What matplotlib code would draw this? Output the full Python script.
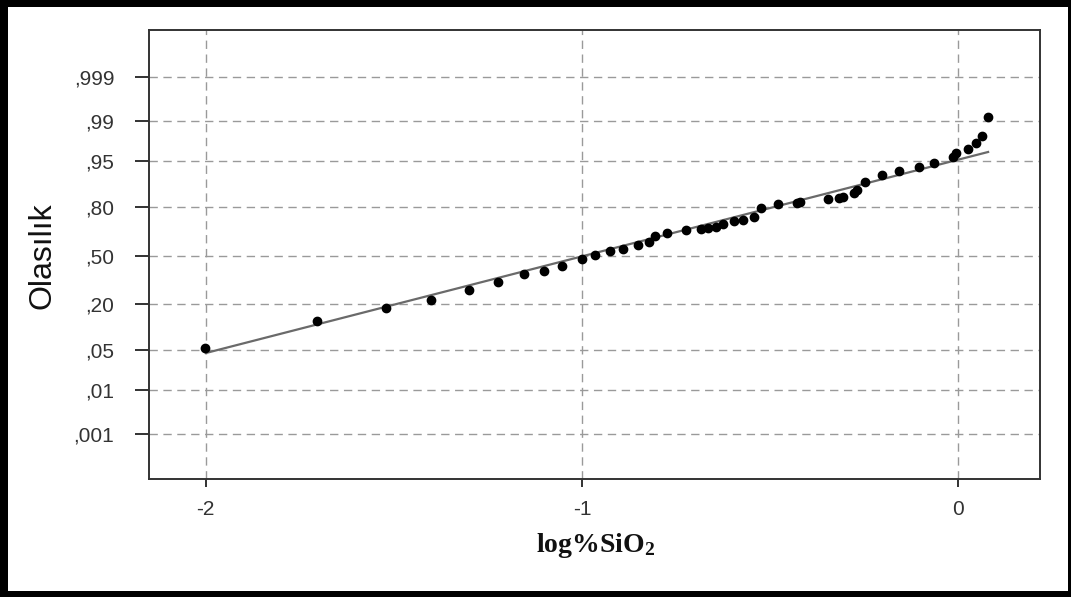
import math
from statistics import NormalDist

import numpy as np
import matplotlib
matplotlib.use("Agg")
import matplotlib.pyplot as plt
from matplotlib.patches import Rectangle

# log10 of %SiO2 values
log_sio2 = [
    -2.003, -1.703, -1.522, -1.402, -1.301, -1.222, -1.153, -1.100, -1.052, -1.001,
    -0.964, -0.924, -0.892, -0.850, -0.821, -0.805, -0.773, -0.722, -0.683, -0.664,
    -0.643, -0.624, -0.595, -0.571, -0.542, -0.523, -0.478, -0.428, -0.420, -0.345,
    -0.316, -0.305, -0.276, -0.268, -0.247, -0.202, -0.157, -0.104, -0.064, -0.013,
    -0.005, 0.027, 0.048, 0.064, 0.080,
]
# cumulative probability of each value
cum_prob = [
    0.0545, 0.128, 0.181, 0.220, 0.275, 0.323, 0.374, 0.394, 0.428, 0.476,
    0.503, 0.531, 0.545, 0.572, 0.593, 0.632, 0.652, 0.671, 0.677, 0.683,
    0.689, 0.707, 0.725, 0.731, 0.748, 0.795, 0.814, 0.819, 0.823, 0.836,
    0.841, 0.845, 0.861, 0.872, 0.899, 0.919, 0.928, 0.937, 0.946, 0.956,
    0.962, 0.968, 0.974, 0.981, 0.992,
]
# fitted normal distribution (mean, std of log%SiO2)
fit_mu = -0.991
fit_sigma = 0.597
fit_range = (-2.0, 0.08)

prob_ticks = [0.001, 0.01, 0.05, 0.20, 0.50, 0.80, 0.95, 0.99, 0.999]
prob_labels = [",001", ",01", ",05", ",20", ",50", ",80", ",95", ",99", ",999"]
x_ticks = [-2, -1, 0]
x_labels = ["-2", "-1", "0"]

_nd = NormalDist()
_ppf = np.vectorize(lambda p: _nd.inv_cdf(min(max(p, 1e-12), 1 - 1e-12)),
                    otypes=[float])
_cdf = np.vectorize(lambda z: 0.5 * (1.0 + math.erf(z / math.sqrt(2.0))),
                    otypes=[float])


def prob_forward(p):
    return _ppf(np.asarray(p, dtype=float))


def prob_inverse(z):
    return _cdf(np.asarray(z, dtype=float))


plt.rcParams["font.family"] = ["Liberation Sans", "DejaVu Sans"]
plt.rcParams["mathtext.fontset"] = "custom"
plt.rcParams["mathtext.rm"] = "Liberation Serif:bold"
plt.rcParams["mathtext.bf"] = "Liberation Serif:bold"

fig = plt.figure(figsize=(10.71, 5.97), dpi=100)
fig.patch.set_facecolor("white")

ax = fig.add_axes([149 / 1071, 118 / 597, 891 / 1071, 449 / 597])
ax.set_yscale("function", functions=(prob_forward, prob_inverse))
ax.set_xlim(-2.151, 0.218)
ax.set_ylim(float(prob_inverse(-3.873)), float(prob_inverse(3.908)))

grid_kw = dict(color="#9a9a9a", lw=1.0, dashes=(6, 4), zorder=1)
for p in prob_ticks:
    ax.axhline(p, **grid_kw)
for xv in x_ticks:
    ax.axvline(xv, **grid_kw)

# fitted line
xs = np.linspace(fit_range[0], fit_range[1], 200)
ax.plot(xs, prob_inverse((xs - fit_mu) / fit_sigma), color="#6a6a6a", lw=1.6, zorder=2)

# observations
ax.plot(log_sio2, cum_prob, "o", color="black", ms=6, zorder=3)

ax.set_yticks(prob_ticks)
ax.set_yticklabels(prob_labels)
ax.yaxis.set_minor_locator(matplotlib.ticker.NullLocator())
ax.set_xticks(x_ticks)
ax.set_xticklabels(x_labels)

ax.tick_params(axis="y", length=10, width=1.3, color="#222222", pad=15,
               labelsize=15, labelcolor="#333333")
ax.tick_params(axis="x", length=6, width=1.3, color="#222222", pad=9,
               labelsize=15, labelcolor="#333333")
for s in ax.spines.values():
    s.set_color("#333333")
    s.set_linewidth(1.4)

fig.text(42 / 1071, 1 - 256 / 597, "Olasılık", rotation=90, ha="center", va="center",
         fontsize=23, color="#111111")
fig.text(596 / 1071, 1 - 545 / 597, r"$\mathrm{log\%SiO_2}$", ha="center", va="center",
         fontsize=20, color="#111111")

# black outer frame
frame = [
    (0, 0, 8 / 1071, 1),
    (1 - 3 / 1071, 0, 3 / 1071, 1),
    (0, 1 - 7 / 597, 1, 7 / 597),
    (0, 0, 1, 6 / 597),
]
for x0, y0, w, h in frame:
    fig.add_artist(Rectangle((x0, y0), w, h, transform=fig.transFigure,
                             facecolor="black", edgecolor="none"))

fig.savefig("out.png", dpi=100)
